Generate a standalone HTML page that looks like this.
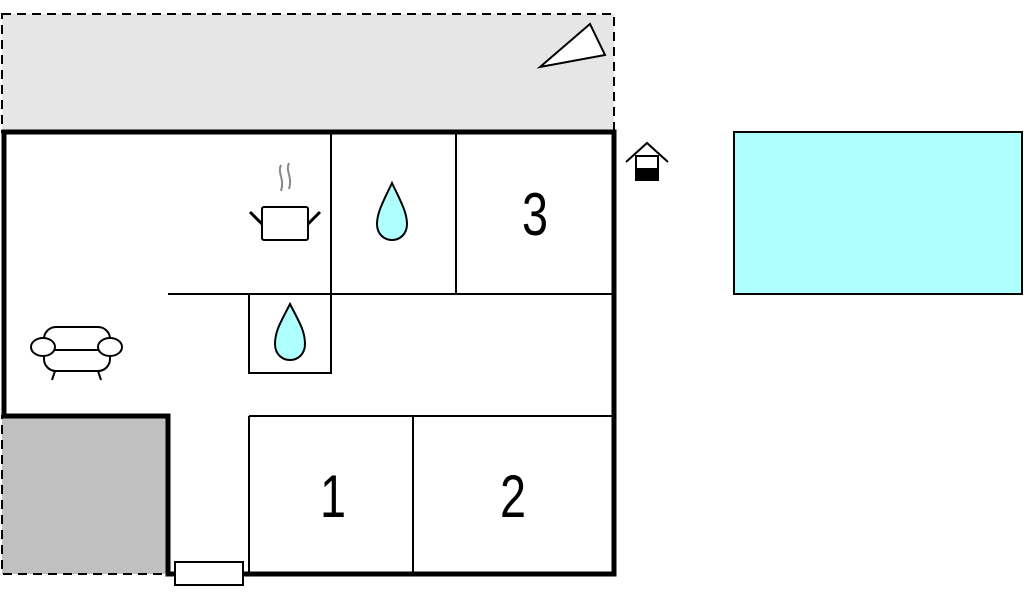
<!DOCTYPE html>
<html><head><style>body{margin:0;background:#fff}svg{display:block}</style></head><body>
<svg width="1024" height="596" viewBox="0 0 1024 596" xmlns="http://www.w3.org/2000/svg">
<rect x="2" y="14" width="612" height="118" fill="#e6e6e6" stroke="#000" stroke-width="2" stroke-dasharray="9,6"/>
<rect x="2" y="416" width="166" height="158" fill="#c0c0c0" stroke="#000" stroke-width="2" stroke-dasharray="9,6"/>
<polygon points="540,67 590,24 605,55" fill="#fff" stroke="#000" stroke-width="2"/>
<rect x="734" y="132" width="288" height="162" fill="#b0ffff" stroke="#000" stroke-width="2"/>
<g stroke="#000" stroke-width="2" fill="none">
<line x1="331" y1="132" x2="331" y2="294"/>
<line x1="456" y1="132" x2="456" y2="294"/>
<line x1="168" y1="294" x2="614" y2="294"/>
<rect x="249" y="294" width="82" height="79"/>
<line x1="249" y1="416" x2="614" y2="416"/>
<line x1="249" y1="416" x2="249" y2="574"/>
<line x1="413" y1="416" x2="413" y2="574"/>
</g>
<path d="M4,416 V132 H614 V574 H168 V416 Z" fill="none" stroke="#000" stroke-width="5"/>
<rect x="175" y="562" width="68" height="23" fill="#fff" stroke="#000" stroke-width="2"/>
<path d="M392,183 C384,200 377,212 377,224 C377,234 384,240 392,240 C400,240 407,234 407,224 C407,212 400,200 392,183 Z" fill="#b0ffff" stroke="#000" stroke-width="2"/>
<path d="M290,304 C282,320 275,330 275,344 C275,354 282,360 290,360 C298,360 305,354 305,344 C305,330 298,320 290,304 Z" fill="#b0ffff" stroke="#000" stroke-width="2"/>
<g stroke="#000" stroke-width="2" fill="#fff">
<rect x="262" y="207" width="46" height="33" rx="2"/>
<line x1="262" y1="224" x2="250" y2="212" stroke-width="3"/>
<line x1="308" y1="224" x2="320" y2="212" stroke-width="3"/>
</g>
<path d="M281,165 c-4,8 4,14 0,26 M289,163 c-4,8 4,14 0,26" stroke="#888" stroke-width="2" fill="none"/>
<g stroke="#000" stroke-width="2" fill="#fff">
<rect x="44" y="327" width="66" height="44" rx="12"/>
<line x1="52" y1="350" x2="102" y2="350"/>
<ellipse cx="43" cy="347" rx="12" ry="9"/>
<ellipse cx="110" cy="347" rx="12" ry="9"/>
<line x1="55" y1="371" x2="52" y2="380"/>
<line x1="98" y1="371" x2="101" y2="380"/>
</g>
<g stroke="#000" stroke-width="2" fill="none">
<polyline points="626,162 647,143 668,162"/>
<rect x="636" y="156" width="22" height="24"/>
</g>
<rect x="636" y="168" width="22" height="13" fill="#000"/>
<g font-family="Liberation Sans, sans-serif" font-size="60" text-anchor="middle" fill="#000">
<text transform="translate(535,235) scale(0.78,1)">3</text>
<text transform="translate(333,517) scale(0.78,1)">1</text>
<text transform="translate(513,517) scale(0.78,1)">2</text>
</g>
</svg>
</body></html>
